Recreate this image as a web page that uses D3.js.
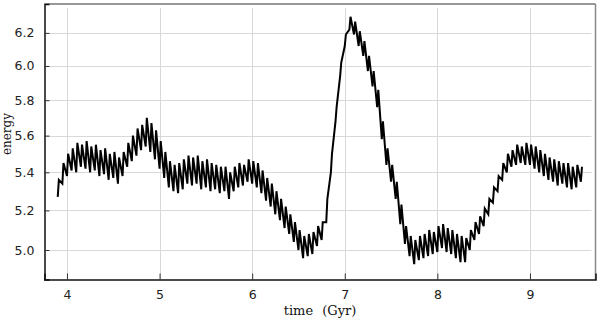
<!DOCTYPE html>
<html>
<head>
<meta charset="utf-8">
<script src="https://cdn.jsdelivr.net/npm/d3@7"></script>
<style>
  html, body { margin: 0; padding: 0; background: #fff; }
  svg { display: block; }
</style>
</head>
<body>
<div id="chart"></div>
<script>
// sampled teeth of the energy curve: start time, trough and crest
const toothTime = [
  3.90, 3.95, 4.00, 4.05, 4.10, 4.15, 4.20, 4.25, 4.30, 4.35, 4.40, 4.45, 4.50, 4.55, 4.60, 4.65, 4.70, 4.75, 4.80, 4.85,
  4.90, 4.95, 5.00, 5.05, 5.10, 5.15, 5.20, 5.25, 5.30, 5.35, 5.40, 5.45, 5.50, 5.55, 5.60, 5.65, 5.70, 5.75, 5.80, 5.85,
  5.90, 5.95, 6.00, 6.05, 6.10, 6.15, 6.20, 6.25, 6.30, 6.35, 6.40, 6.45, 6.50, 6.55, 6.60, 6.65, 6.70, 6.75, 6.80, 6.85,
  6.90, 6.95, 7.00, 7.05, 7.10, 7.15, 7.20, 7.25, 7.30, 7.35, 7.40, 7.45, 7.50, 7.55, 7.60, 7.65, 7.70, 7.75, 7.80, 7.85,
  7.90, 7.95, 8.00, 8.05, 8.10, 8.15, 8.20, 8.25, 8.30, 8.35, 8.40, 8.45, 8.50, 8.55, 8.60, 8.65, 8.70, 8.75, 8.80, 8.85,
  8.90, 8.95, 9.00, 9.05, 9.10, 9.15, 9.20, 9.25, 9.30, 9.35, 9.40, 9.45, 9.50, 9.55
];
const energyLow = [
  5.27, 5.34, 5.38, 5.41, 5.40, 5.43, 5.42, 5.40, 5.41, 5.38, 5.39, 5.36, 5.37, 5.34, 5.38, 5.43, 5.46, 5.49, 5.52, 5.54,
  5.51, 5.47, 5.42, 5.37, 5.32, 5.30, 5.29, 5.31, 5.34, 5.33, 5.34, 5.31, 5.32, 5.30, 5.31, 5.29, 5.30, 5.26, 5.30, 5.32,
  5.33, 5.35, 5.34, 5.32, 5.29, 5.25, 5.22, 5.18, 5.15, 5.11, 5.08, 5.04, 5.00, 4.96, 4.97, 4.98, 5.02, 5.05, 5.14, 5.40,
  5.68, 5.94, 6.12, 6.22, 6.19, 6.12, 6.06, 5.97, 5.88, 5.76, 5.58, 5.44, 5.35, 5.26, 5.13, 5.03, 4.97, 4.93, 4.95, 4.96,
  4.97, 4.98, 4.99, 5.01, 4.99, 4.98, 4.96, 4.94, 4.94, 5.00, 5.05, 5.08, 5.12, 5.18, 5.24, 5.30, 5.36, 5.40, 5.43, 5.44,
  5.45, 5.44, 5.44, 5.42, 5.40, 5.38, 5.36, 5.35, 5.33, 5.34, 5.32, 5.31, 5.32, 5.35
];
const energyHigh = [
  5.36, 5.45, 5.50, 5.53, 5.56, 5.55, 5.57, 5.54, 5.55, 5.52, 5.53, 5.50, 5.51, 5.48, 5.51, 5.56, 5.60, 5.64, 5.66, 5.70,
  5.67, 5.63, 5.57, 5.51, 5.46, 5.44, 5.45, 5.47, 5.49, 5.48, 5.49, 5.46, 5.47, 5.45, 5.44, 5.43, 5.43, 5.40, 5.43, 5.45,
  5.44, 5.47, 5.46, 5.45, 5.41, 5.37, 5.34, 5.30, 5.26, 5.22, 5.18, 5.14, 5.10, 5.07, 5.08, 5.09, 5.12, 5.14, 5.26, 5.50,
  5.76, 6.02, 6.19, 6.30, 6.27, 6.21, 6.15, 6.06, 5.97, 5.86, 5.68, 5.53, 5.44, 5.35, 5.23, 5.12, 5.07, 5.05, 5.07, 5.08,
  5.10, 5.09, 5.12, 5.13, 5.11, 5.10, 5.08, 5.07, 5.06, 5.10, 5.14, 5.17, 5.21, 5.26, 5.32, 5.38, 5.45, 5.50, 5.52, 5.55,
  5.54, 5.56, 5.55, 5.54, 5.52, 5.50, 5.48, 5.47, 5.46, 5.45, 5.45, 5.43, 5.44, 5.43
];
const xTicks = [4, 5, 6, 7, 8, 9];
const yTicks = [5.0, 5.2, 5.4, 5.6, 5.8, 6.0, 6.2];

const width = 600;
const height = 322;
const plotLeft = 44.5, plotRight = 595.5, plotTop = 4, plotBottom = 279.5;

const svg = d3
  .select("#chart")
  .append("svg")
  .attr("width", width)
  .attr("height", height);

const x = d3.scaleLinear().domain([3.757, 9.708]).range([plotLeft, plotRight]);
// the vertical axis is logarithmic (gaps widen towards the bottom)
const y = d3.scaleLog().domain([4.856, 6.38]).range([plotBottom, plotTop]);

// grid
svg.append("g")
  .selectAll("line")
  .data(yTicks)
  .enter()
  .append("line")
  .attr("x1", plotLeft)
  .attr("x2", plotRight - 4)
  .attr("y1", (d) => Math.round(y(d)) + 0.5)
  .attr("y2", (d) => Math.round(y(d)) + 0.5)
  .attr("stroke", "#d8d8d8");

svg.append("g")
  .selectAll("line")
  .data(xTicks)
  .enter()
  .append("line")
  .attr("x1", (d) => Math.round(x(d)) + 0.5)
  .attr("x2", (d) => Math.round(x(d)) + 0.5)
  .attr("y1", plotTop + 4)
  .attr("y2", plotBottom)
  .attr("stroke", "#d8d8d8");

// frame: dark top, grey right
svg.append("line")
  .attr("x1", plotLeft).attr("x2", plotRight)
  .attr("y1", plotTop).attr("y2", plotTop)
  .attr("stroke", "#333").attr("stroke-width", 1.2);
svg.append("line")
  .attr("x1", plotRight).attr("x2", plotRight)
  .attr("y1", plotTop).attr("y2", plotBottom)
  .attr("stroke", "#888").attr("stroke-width", 1.5);

// axes with inward ticks
const xAxis = d3.axisBottom(x).tickValues(xTicks).tickSize(-6).tickPadding(11).tickFormat(d3.format("d"));
const yAxis = d3.axisLeft(y).tickValues(yTicks).tickSize(-5).tickPadding(10).tickFormat(d3.format(".1f"));

const gx = svg.append("g").attr("transform", `translate(0,${plotBottom})`).call(xAxis);
const gy = svg.append("g").attr("transform", `translate(${plotLeft},0)`).call(yAxis);

[gx, gy].forEach((g) => {
  g.select(".domain").attr("stroke", "#111").attr("stroke-width", 1.5);
  g.selectAll(".tick line").attr("stroke", "#333");
  g.selectAll(".tick text")
    .attr("fill", "#222")
    .style("font-family", "'DejaVu Sans', sans-serif")
    .style("font-size", "12.5px");
});

// energy curve: each tooth jumps up quickly then decays
const pts = [];
toothTime.forEach((t, i) => {
  pts.push([t, energyLow[i]]);
  pts.push([t + 0.012, energyHigh[i]]);
});

const line = d3.line()
  .x((d) => x(d[0]))
  .y((d) => y(d[1]));

svg.append("path")
  .datum(pts)
  .attr("d", line)
  .attr("fill", "none")
  .attr("stroke", "#000")
  .attr("stroke-width", 2)
  .attr("stroke-linejoin", "miter");

// axis titles
svg.append("text")
  .attr("x", 320)
  .attr("y", 315)
  .attr("text-anchor", "middle")
  .style("font-family", "'DejaVu Serif', serif")
  .style("font-size", "13px")
  .style("word-spacing", "5px")
  .attr("fill", "#111")
  .text("time (Gyr)");

svg.append("text")
  .attr("transform", "translate(11,134) rotate(-90)")
  .attr("text-anchor", "middle")
  .style("font-family", "'DejaVu Serif', serif")
  .style("font-size", "12px")
  .attr("fill", "#111")
  .text("energy");
</script>
</body>
</html>
